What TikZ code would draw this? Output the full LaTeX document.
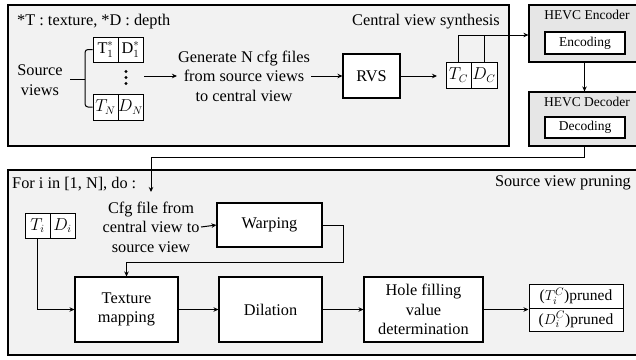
\documentclass[tikz,border=0pt]{standalone}
\usepackage{fontspec}
\setmainfont{Liberation Serif}
\usetikzlibrary{arrows.meta,shapes.multipart}
\definecolor{panelgray}{HTML}{F2F2F2}
\definecolor{hevcgray}{HTML}{E6E6E6}
\begin{document}
\begin{tikzpicture}[x=1pt,y=-1pt,
  every node/.style={font=\fontsize{16.3}{19.5}\selectfont},
  small/.style={font=\fontsize{13.5}{16}\selectfont},
  outf/.style={font=\fontsize{15.5}{18}\selectfont},
  panel/.style={draw,line width=1.3pt,fill=panelgray,inner sep=0pt},
  hevc/.style={draw,line width=1.2pt,fill=hevcgray,inner sep=0pt},
  blk/.style={draw,line width=1.1pt,fill=white,inner sep=0pt,align=center},
  cell/.style={draw,line width=1pt,fill=white,inner sep=0pt},
  txt/.style={align=center,inner sep=1pt},
  conn/.style={line width=1pt},
  arr/.style={line width=1pt,-{Stealth[length=5pt,width=4.5pt]}}]
\useasboundingbox (0,0) rectangle (636,359);
% panels
\node[panel,minimum width=501pt,minimum height=141pt] (top) at (258.5,75.5) {};
\node[panel,minimum width=632pt,minimum height=185pt] (bot) at (324,262.5) {};
\node[hevc,minimum width=111pt,minimum height=57pt] (enc) at (584.5,33.5) {};
\node[hevc,minimum width=111pt,minimum height=54pt] (dec) at (584.5,119) {};
\node[small,anchor=north,inner sep=0pt] (enct) at (587,10) {HEVC Encoder};
\node[blk,small,minimum width=80pt,minimum height=22pt] (encb) at (585,43) {Encoding};
\node[small,anchor=north,inner sep=0pt] (dect) at (587,97) {HEVC Decoder};
\node[blk,small,minimum width=80pt,minimum height=21pt] (decb) at (585,127.5) {Decoding};
% top panel labels
\node[anchor=west,inner sep=0pt] (legend) at (17,22) {*T : texture, *D : depth};
\node[anchor=east,inner sep=0pt] (cvs) at (500,22) {Central view synthesis};
% source views
\node[txt] (sv) at (40,80) {Source\\views};
\node[cell,minimum width=25pt,minimum height=25pt] (t1) at (105.5,49.5) {$\mathrm{T}_1^*$};
\node[cell,minimum width=25pt,minimum height=25pt] (d1) at (130.5,49.5) {$\mathrm{D}_1^*$};
\node[cell,minimum width=25pt,minimum height=26pt] (tn) at (105.5,107) {$T_N$};
\node[cell,minimum width=25pt,minimum height=26pt] (dn) at (130.5,107) {$D_N$};
\fill (126,71.5) circle (1.7pt) (126,77.5) circle (1.7pt) (126,83.5) circle (1.7pt);
\coordinate (bj) at (85,79);
\draw[conn,rounded corners=3pt] (t1.west) -| (bj) |- (tn.west);
\coordinate (svr) at (70,79);
\draw[conn] (svr) -- (bj);
\node[txt] (gen) at (244,76) {Generate N cfg files\\from source views\\to central view};
\coordinate (genin) at (144,76);
\draw[arr] (genin) -- (gen.west);
\node[blk,minimum width=57pt,minimum height=44pt] (rvs) at (371.5,76) {RVS};
\draw[arr] (gen.east) -- (rvs.west);
\node[cell,minimum width=25pt,minimum height=26pt] (tc) at (458.5,75) {$T_C$};
\node[cell,minimum width=26pt,minimum height=26pt] (dc) at (484,75) {$D_C$};
\coordinate (tcin) at (437,76);
\draw[arr] (rvs.east) -- (tcin);
\coordinate (tcj) at (458.5,35);
\draw[conn] (tc.north) -- (tcj);
\draw[conn] (dc.north) -- (dc.north |- tcj);
\draw[arr] (tcj) -- (tcj -| enc.west);
\draw[arr] (enc.south) -- (dec.north);
% decoder to bottom
\coordinate (fi) at (151,192);
\draw[arr] (dec.south) |- (151,157) -- (fi);
% bottom labels
\node[anchor=west,inner sep=0pt] (fori) at (12,184) {For i in [1, N], do :};
\node[anchor=east,inner sep=0pt] (svp) at (631,183) {Source view pruning};
\node[cell,minimum width=25pt,minimum height=25pt] (ti) at (37.5,225.5) {$T_i$};
\node[cell,minimum width=25pt,minimum height=25pt] (di) at (62.5,225.5) {$D_i$};
\node[txt] (cfg) at (151,227) {Cfg file from\\central view to\\source view};
\node[blk,minimum width=105pt,minimum height=44pt] (warp) at (269.5,225) {Warping};
\coordinate (cfgo) at (201,227);
\draw[arr] (cfgo) -- (warp.west);
\node[blk,minimum width=103pt,minimum height=65pt] (tex) at (126.5,309.5) {Texture\\mapping};
\node[blk,minimum width=103pt,minimum height=65pt] (dil) at (270.5,309.5) {Dilation};
\node[blk,minimum width=119pt,minimum height=65pt] (hole) at (423.5,309.5) {Hole filling\\value\\determination};
\node[cell,outf,rectangle split,rectangle split parts=2,text width=90pt,align=center,
      minimum width=94pt,minimum height=50pt,inner ysep=3pt] (out) at (576,308)
  {($T_i^C$)pruned\nodepart{two}($D_i^C$)pruned};
\coordinate (wr) at (343,262);
\draw[arr] (warp.east) -| (wr) -| (tex.north);
\draw[arr] (ti.south) |- (tex.west);
\draw[arr] (tex.east) -- (dil.west);
\draw[arr] (dil.east) -- (hole.west);
\draw[arr] (hole.east) -- (hole.east -| out.west);
\end{tikzpicture}
\end{document}
